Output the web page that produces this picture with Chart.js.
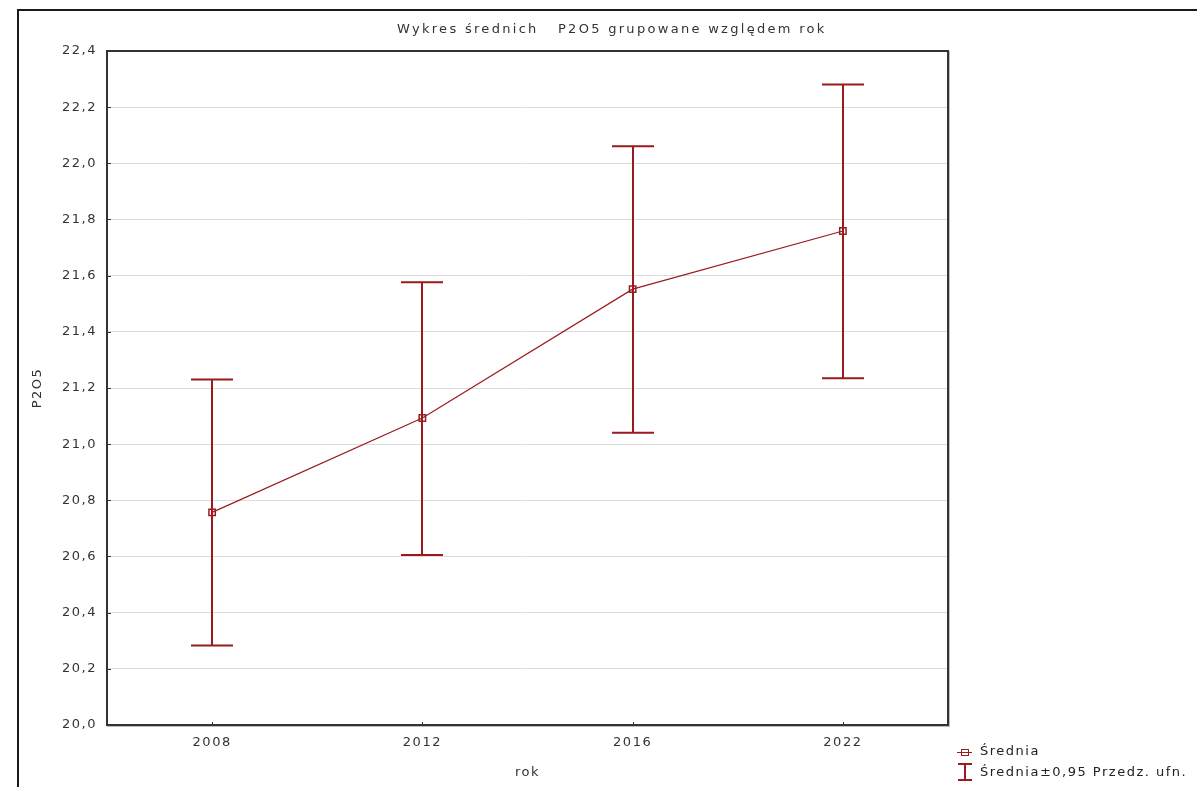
<!DOCTYPE html>
<html><head><meta charset="utf-8">
<script src="https://cdn.jsdelivr.net/npm/chart.js@4/dist/chart.umd.min.js"></script>
<style>html,body{margin:0;padding:0;background:#fff;overflow:hidden}</style>
</head><body>
<canvas id="c" width="1197" height="787"></canvas>
<script>
const categories = ['2008', '2012', '2016', '2022'];
const means = [20.757, 21.093, 21.552, 21.759];
const lowerCI = [20.283, 20.605, 21.041, 21.235];
const upperCI = [21.230, 21.577, 22.061, 22.281];
const yTickValues = [20.0, 20.2, 20.4, 20.6, 20.8, 21.0, 21.2, 21.4, 21.6, 21.8, 22.0, 22.2, 22.4];
const titleText = 'Wykres średnich   P2O5 grupowane względem rok';
const xTitle = 'rok';
const yTitle = 'P2O5';
const legendLabels = ['Średnia', 'Średnia±0,95 Przedz. ufn.'];

const RED = '#9a1b1f';
const FONT = 'DejaVu Sans';

const spacingPlugin = {
  id: 'spacing',
  beforeDraw(chart) { chart.ctx.letterSpacing = '1.5px'; }
};

const errorBars = {
  id: 'errorBars',
  afterDatasetsDraw(chart) {
    const {ctx, scales: {x, y}} = chart;
    const step = x.getPixelForValue(1) - x.getPixelForValue(0);
    const half = step * 0.1;
    ctx.save();
    ctx.strokeStyle = RED;
    ctx.lineWidth = 2;
    for (let i = 0; i < categories.length; i++) {
      const px = Math.round(x.getPixelForValue(i));
      const yl = y.getPixelForValue(lowerCI[i]);
      const yu = y.getPixelForValue(upperCI[i]);
      ctx.beginPath();
      ctx.moveTo(px, yu); ctx.lineTo(px, yl);
      ctx.moveTo(px - half, yu); ctx.lineTo(px + half, yu);
      ctx.moveTo(px - half, yl); ctx.lineTo(px + half, yl);
      ctx.stroke();
    }
    ctx.restore();
  }
};

const decor = {
  id: 'decor',
  afterDraw(chart) {
    const {ctx, chartArea: a, scales: {x, y}} = chart;
    ctx.save();
    ctx.strokeStyle = '#bdbdbd';
    ctx.lineWidth = 1;
    ctx.strokeRect(a.left + 0.5, a.top + 0.5, a.right - a.left + 1, a.bottom - a.top + 1);
    ctx.strokeStyle = '#333';
    ctx.lineWidth = 2;
    ctx.strokeRect(a.left, a.top, a.right - a.left, a.bottom - a.top);
    ctx.lineWidth = 1;
    ctx.beginPath();
    y.ticks.forEach(t => {
      const py = Math.round(y.getPixelForValue(t.value)) + 0.5;
      ctx.moveTo(a.left, py); ctx.lineTo(a.left + 4, py);
    });
    categories.forEach((c, i) => {
      const px = Math.round(x.getPixelForValue(i)) + 0.5;
      ctx.moveTo(px, a.bottom); ctx.lineTo(px, a.bottom - 3);
    });
    ctx.stroke();
    ctx.strokeStyle = '#1a1a1a';
    ctx.lineWidth = 2;
    ctx.beginPath();
    ctx.moveTo(18, 787); ctx.lineTo(18, 10); ctx.lineTo(1197, 10);
    ctx.stroke();
    ctx.fillStyle = '#333';
    ctx.font = '13px "' + FONT + '"';
    ctx.letterSpacing = '2.3px';
    ctx.textBaseline = 'middle';
    ctx.textAlign = 'left';
    ctx.fillText(titleText, 397, 30);
    ctx.letterSpacing = '1.5px';
    ctx.strokeStyle = RED;
    ctx.lineWidth = 1;
    ctx.beginPath();
    ctx.moveTo(957, 752.5); ctx.lineTo(972, 752.5);
    ctx.stroke();
    ctx.strokeRect(961.5, 749.5, 7, 6);
    ctx.lineWidth = 2;
    ctx.beginPath();
    ctx.moveTo(965, 764); ctx.lineTo(965, 780);
    ctx.moveTo(958, 764); ctx.lineTo(972, 764);
    ctx.moveTo(958, 780); ctx.lineTo(972, 780);
    ctx.stroke();
    ctx.fillStyle = '#222';
    ctx.fillText(legendLabels[0], 980, 752);
    ctx.fillText(legendLabels[1], 980, 773);
    ctx.restore();
  }
};

new Chart(document.getElementById('c'), {
  type: 'line',
  data: {
    labels: categories,
    datasets: [{
      label: legendLabels[0],
      data: means,
      borderColor: RED,
      borderWidth: 1.2,
      pointStyle: 'rect',
      pointRadius: 4.5,
      pointBorderWidth: 1.5,
      pointBorderColor: RED,
      pointBackgroundColor: 'rgba(255,255,255,0)',
      tension: 0
    }]
  },
  options: {
    responsive: false,
    animation: false,
    devicePixelRatio: 1,
    layout: {padding: {top: 51, right: 249, left: 0, bottom: 0}},
    plugins: {legend: {display: false}, title: {display: false}, tooltip: {enabled: false}},
    scales: {
      x: {
        type: 'category',
        offset: true,
        grid: {display: false, drawTicks: false},
        border: {display: false},
        ticks: {color: '#333', font: {family: FONT, size: 13}, padding: 10, maxRotation: 0},
        title: {display: true, text: xTitle, color: '#333', font: {family: FONT, size: 13}, padding: {top: 0, bottom: 7}},
        afterFit(s) { s.height = 62; }
      },
      y: {
        min: 20, max: 22.4,
        afterBuildTicks(s) { s.ticks = yTickValues.map(v => ({value: v})); },
        grid: {color: '#dcdcdc', lineWidth: 1, drawTicks: false},
        border: {display: false},
        ticks: {color: '#333', font: {family: FONT, size: 13}, padding: 10,
          callback: v => Number(v).toFixed(1).replace('.', ',')},
        title: {display: true, text: yTitle, color: '#333', font: {family: FONT, size: 13}, padding: {top: 30, bottom: 0}},
        afterFit(s) { s.width = 107; }
      }
    }
  },
  plugins: [spacingPlugin, errorBars, decor]
});
</script>
</body></html>
